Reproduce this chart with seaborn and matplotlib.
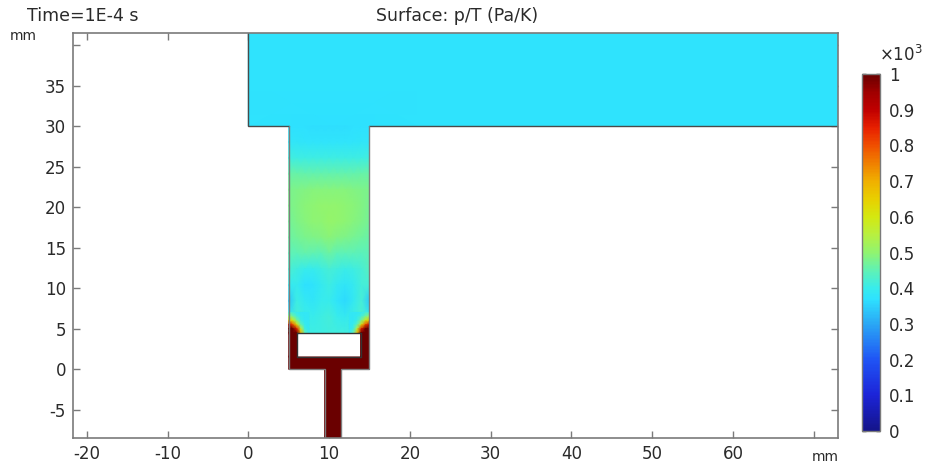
import numpy as np
import matplotlib
matplotlib.use('Agg')
import matplotlib.pyplot as plt
from matplotlib.colors import LinearSegmentedColormap
from matplotlib.transforms import Affine2D
import seaborn as sns

# colour stops
cbar_levels = [0, .1, .2, .3, .37, .4, .45, .5, .55, .6, .65, .7, .75, .8, .85, .9, .95, 1]
cbar_colors = ['#14148a', '#1c24d8', '#1f55f5', '#2aa8f5', '#2ee2ff', '#38ecec', '#60f2b4', '#90f470',
               '#b8f040', '#d4e810', '#e8d000', '#f0b000', '#f08000', '#f05000', '#e82000',
               '#c00000', '#a00000', '#6a0000']
cbar_ticks = [0, 100, 200, 300, 400, 500, 600, 700, 800, 900, 1000]
cbar_labels = ['0', '0.1', '0.2', '0.3', '0.4', '0.5', '0.6', '0.7', '0.8', '0.9', '1']

x_ticks = [-20, -10, 0, 10, 20, 30, 40, 50, 60, 70]
x_labels = ['-20', '-10', '0', '10', '20', '30', '40', '50', '60', '']
y_ticks = [-5, 0, 5, 10, 15, 20, 25, 30, 35, 40]
y_labels = ['-5', '0', '5', '10', '15', '20', '25', '30', '35', '']

# p/T in Pa/K, first row is the top of each region
band_values = [
    [372, 372, 372, 372, 372, 372, 372, 372],
    [372, 372, 372, 372, 372, 372, 372, 372],
    [372, 370, 372, 372, 372, 372, 372, 372],
]
channel_values = [
    [370, 368, 368, 366, 366, 366, 366, 366, 368, 368, 370],
    [382, 380, 378, 378, 378, 378, 378, 378, 378, 380, 382],
    [412, 410, 408, 408, 408, 408, 408, 408, 408, 410, 412],
    [458, 458, 456, 456, 456, 456, 456, 456, 456, 458, 458],
    [478, 484, 488, 490, 490, 490, 490, 490, 488, 484, 478],
    [478, 488, 495, 498, 500, 500, 500, 498, 495, 488, 476],
    [472, 482, 492, 498, 498, 505, 500, 498, 492, 482, 470],
    [462, 472, 480, 484, 486, 496, 486, 484, 476, 468, 458],
    [448, 448, 456, 452, 448, 462, 448, 448, 448, 442, 446],
    [425, 412, 402, 398, 408, 418, 412, 404, 408, 420, 438],
    [392, 398, 368, 372, 392, 408, 388, 380, 392, 415, 420],
    [335, 408, 388, 382, 398, 402, 378, 362, 388, 420, 340],
    [392, 418, 405, 402, 410, 415, 400, 392, 408, 424, 400],
    [440, 425, 412, 408, 408, 412, 412, 412, 412, 425, 445],
]
corner_left_values = [
    [425, 408, 395, 385, 385, 390],
    [520, 470, 420, 395, 385, 390],
    [680, 600, 480, 410, 385, 385],
    [900, 800, 620, 450, 395, 385],
    [1000, 1000, 850, 560, 410, 385],
    [1000, 1000, 1000, 700, 450, 385],
]
corner_right_values = [
    [390, 385, 385, 395, 408, 425],
    [390, 385, 395, 420, 470, 520],
    [385, 385, 410, 480, 600, 680],
    [385, 395, 450, 620, 800, 900],
    [385, 410, 560, 850, 1000, 1000],
    [385, 450, 700, 1000, 1000, 1000],
]
solid_values = [[1000, 1000], [1000, 1000]]

# geometry in mm
band_x, band_y = (0, 73), (30, 41.5)
channel_x, channel_y = (5, 15), (4.5, 30)
corner_left_x, corner_right_x, corner_y = (5, 7.5), (12.5, 15), (4.5, 7)
solid_parts = [((5, 15), (0, 1.5)), ((5, 6), (1.5, 4.5)), ((13.9, 15), (1.5, 4.5)),
               ((9.45, 11.5), (-8.5, 0))]
band_edges = [([0, 0, 5], [41.5, 30, 30]), ([15, 73], [30, 30])]
wall_edges = [([5, 5, 9.45, 9.45], [30, 0, 0, -8.5]), ([11.5, 11.5, 15, 15], [-8.5, 0, 0, 30])]
hole_x = [6, 13.9, 13.9, 6, 6]
hole_y = [4.5, 4.5, 1.5, 1.5, 4.5]

text_color = '#2a2a2a'
frame_color = '#7a7a7a'

sns.set_theme(style='white')
plt.rcParams['font.family'] = ['DejaVu Sans']

cmap = LinearSegmentedColormap.from_list('comsol_rainbow', list(zip(cbar_levels, cbar_colors)), N=256)

fig = plt.figure(figsize=(9.25, 4.7), dpi=100)
ax = fig.add_axes([73 / 925, 1 - 438 / 470, (838 - 73) / 925, (438 - 33) / 470])
cax = fig.add_axes([862 / 925, 1 - 431 / 470, 18 / 925, (431 - 74) / 470])


def draw_region(values, x_range, y_range, **kws):
    values = np.array(values)
    nrows, ncols = values.shape
    to_mm = Affine2D().scale((x_range[1] - x_range[0]) / (ncols - 1),
                             -(y_range[1] - y_range[0]) / (nrows - 1))
    to_mm = to_mm.translate(x_range[0], y_range[1]) + ax.transData
    sns.heatmap(values, ax=ax, cmap=cmap, vmin=0, vmax=1000, xticklabels=False, yticklabels=False,
                shading='gouraud', transform=to_mm, **kws)


draw_region(band_values, band_x, band_y, cbar_ax=cax, cbar_kws={'ticks': cbar_ticks})
draw_region(channel_values, channel_x, channel_y, cbar=False)
draw_region(corner_left_values, corner_left_x, corner_y, cbar=False)
draw_region(corner_right_values, corner_right_x, corner_y, cbar=False)
for part_x, part_y in solid_parts:
    draw_region(solid_values, part_x, part_y, cbar=False)

for edge_x, edge_y in band_edges:
    ax.plot(edge_x, edge_y, color='#4a4a4a', lw=1.0, solid_joinstyle='miter')
for edge_x, edge_y in wall_edges:
    ax.plot(edge_x, edge_y, color='#7d7d7d', lw=1.0, solid_joinstyle='miter')
ax.plot(hole_x, hole_y, color='#333333', lw=1.0)

ax.set_xlim(-21.7, 73)
ax.set_ylim(-8.5, 41.5)
ax.set_xticks(x_ticks, x_labels)
ax.set_yticks(y_ticks, y_labels)
ax.tick_params(axis='both', direction='in', length=5, width=1, color=frame_color,
               top=True, right=True, bottom=True, left=True,
               labelsize=12, labelcolor=text_color, pad=5)
for spine in ax.spines.values():
    spine.set_visible(True)
    spine.set_color(frame_color)
    spine.set_linewidth(1.2)

cbar = ax.collections[0].colorbar
cbar.set_ticks(cbar_ticks, labels=cbar_labels)
cax.tick_params(axis='y', direction='in', length=3, width=1, color='#222222', left=True, right=True,
                labelsize=12, labelcolor=text_color, pad=6.5)
cbar.outline.set_visible(True)
cbar.outline.set_linewidth(1.0)
cbar.outline.set_edgecolor(frame_color)

fig.text(27 / 925, 1 - 16 / 470, 'Time=1E-4 s', fontsize=12.5, color=text_color, va='center')
fig.text(457 / 925, 1 - 16 / 470, 'Surface: p/T (Pa/K)', fontsize=12.5, color=text_color, va='center', ha='center')
fig.text(10 / 925, 1 - 36 / 470, 'mm', fontsize=10, color=text_color, va='center')
fig.text(825 / 925, 1 - 457 / 470, 'mm', fontsize=10, color=text_color, va='center', ha='center')
fig.text(879 / 925, 1 - 55 / 470, '×10$^{3}$', fontsize=12, color=text_color, va='center')

fig.savefig('out.png', dpi=100)
